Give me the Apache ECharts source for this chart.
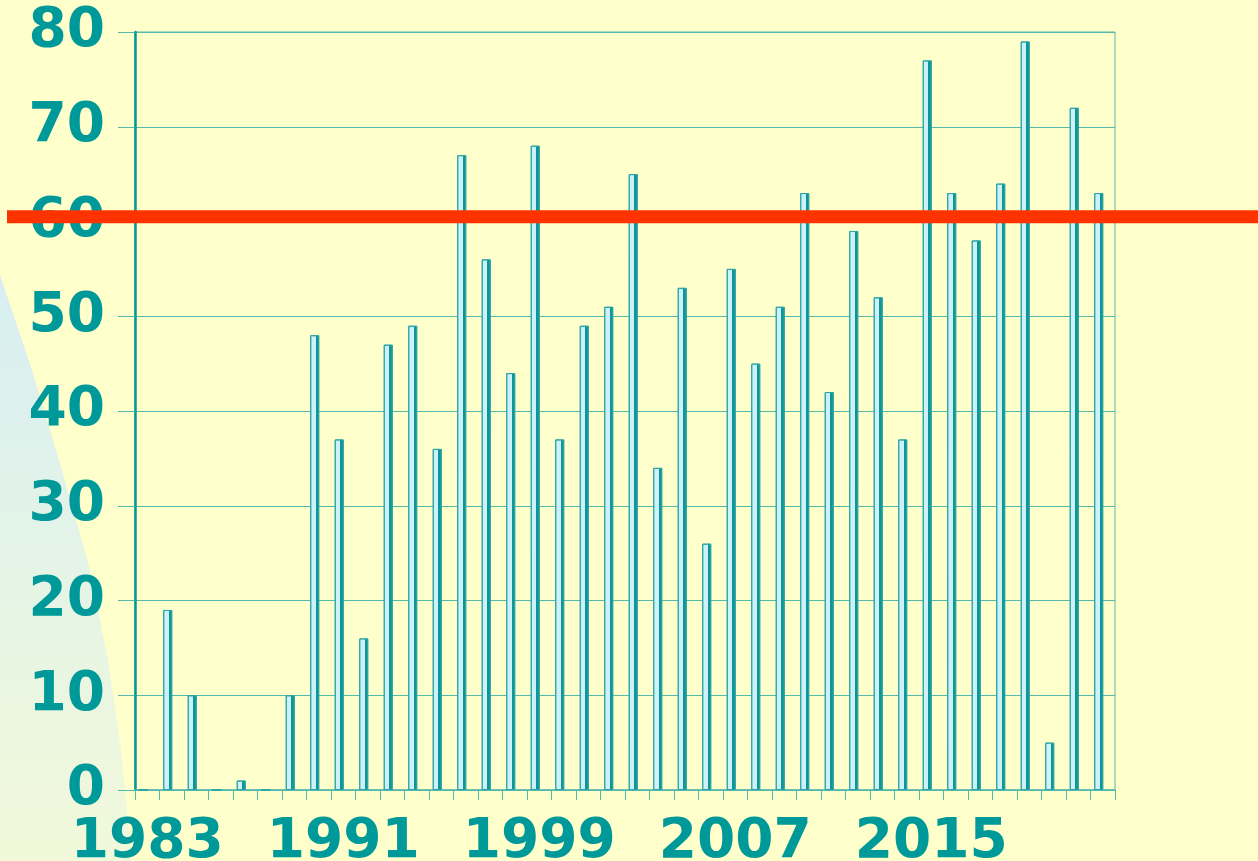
<!DOCTYPE html>
<html>
<head>
<meta charset="utf-8">
<script src="https://cdn.jsdelivr.net/npm/echarts@6/dist/echarts.min.js"></script>
<style>
  html, body { margin: 0; padding: 0; background: #ffffcc; }
  #chart { width: 1258px; height: 861px; }
</style>
</head>
<body>
<div id="chart"></div>
<script>
// 年份
const years = [];
for (let y = 1983; y <= 2022; y++) years.push(String(y));
// 每年数值（1983 年无柱）
const values = [
  0, 19, 10, 0, 1, 0, 10, 48, 37, 16,
  47, 49, 36, 67, 56, 44, 68, 37, 49, 51,
  65, 34, 53, 26, 55, 45, 51, 63, 42, 59,
  52, 37, 77, 63, 58, 64, 79, 5, 72, 63
];
// 红色参考线
const refLine = 60.5;
const yTicks = { min: 0, max: 80, interval: 10 };

const teal = '#009999';
const gridTeal = '#55b8ad';

const myChart = echarts.init(document.getElementById('chart'));
const options = {
  backgroundColor: '#ffffcc',
  animation: false,
  // 左侧浅蓝三角背景
  graphic: [{
    type: 'polygon',
    z: -10,
    silent: true,
    shape: {
      points: [[0, 275], [32, 370], [62, 470], [90, 570], [108, 660], [121, 750], [132, 861], [0, 861]]
    },
    style: {
      fill: new echarts.graphic.LinearGradient(0, 0, 0, 1, [
        { offset: 0, color: '#d8eef2' },
        { offset: 0.5, color: '#e4f4e6' },
        { offset: 1, color: '#f2f9da' }
      ])
    }
  }],
  grid: {
    left: 135,
    right: 143,
    top: 32,
    bottom: 71,
    outerBoundsMode: 'none',
    show: true,
    borderColor: gridTeal,
    borderWidth: 1,
    backgroundColor: 'transparent'
  },
  xAxis: {
    type: 'category',
    data: years,
    boundaryGap: true,
    axisLine: { lineStyle: { color: gridTeal, width: 1.5 } },
    axisTick: { show: true, length: 10, interval: 0, lineStyle: { color: gridTeal } },
    axisLabel: {
      interval: 7,
      color: teal,
      fontFamily: 'DejaVu Sans',
      fontWeight: 'bold',
      fontSize: 55,
      margin: 25
    }
  },
  yAxis: {
    type: 'value',
    min: yTicks.min,
    max: yTicks.max,
    interval: yTicks.interval,
    axisLine: { show: true, lineStyle: { color: teal, width: 2.5 } },
    axisTick: { show: true, length: 17, lineStyle: { color: gridTeal } },
    splitLine: { show: true, lineStyle: { color: gridTeal, width: 1 } },
    axisLabel: {
      color: teal,
      fontFamily: 'DejaVu Sans',
      fontWeight: 'bold',
      fontSize: 55,
      margin: 30
    }
  },
  series: [{
    type: 'bar',
    data: values,
    barWidth: 9,
    barGap: '-11%',
    itemStyle: {
      color: new echarts.graphic.LinearGradient(0, 0, 1, 0, [
        { offset: 0, color: '#cdf1fb' },
        { offset: 0.6, color: '#cdf1fb' },
        { offset: 0.6, color: '#0f9595' },
        { offset: 1, color: '#0f9595' }
      ]),
      borderColor: '#2aa5a5',
      borderWidth: 1
    }
  }, {
    // 占位系列，使柱子偏左
    type: 'bar',
    data: values.map(() => null),
    barWidth: 9
  }]
};
myChart.setOption(options);

// 贯穿整幅的红线
const yPix = myChart.convertToPixel({ yAxisIndex: 0 }, refLine);
myChart.setOption({
  graphic: [{}, {
    type: 'rect',
    z: 100,
    silent: true,
    shape: { x: 7, y: yPix - 6.5, width: 1258, height: 13 },
    style: { fill: '#ff3300' }
  }]
});
</script>
</body>
</html>
